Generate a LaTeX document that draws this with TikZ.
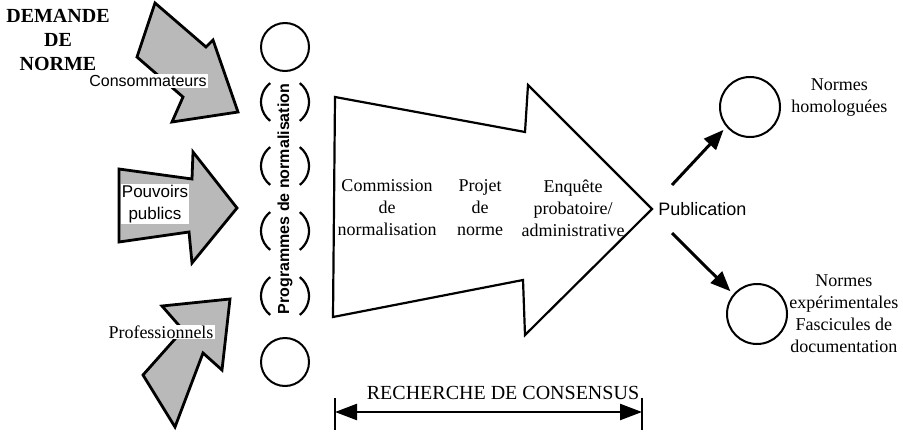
\documentclass[tikz,border=0pt]{standalone}
\usepackage{fontspec}
\setmainfont{Liberation Serif}
\newfontfamily\sansfam{Liberation Sans}
\usetikzlibrary{
    arrows.meta,
    positioning,
    calc,
}

\begin{document}
\begin{tikzpicture}[
    x=0.5pt, y=-0.5pt,
    demand/.style={draw, line width=1.4pt, fill=gray!55, line join=miter},
    bigarrow/.style={draw, line width=1.1pt, fill=white, line join=miter},
    prog/.style={draw, line width=1pt, circle, minimum size=24pt, inner sep=0pt},
    result/.style={draw, line width=1pt, circle, minimum size=30pt, inner sep=0pt},
    paren/.style={line width=1.1pt},
    lbl/.style={align=center, inner sep=1pt, font=\fontsize{9}{11}\selectfont},
    tag/.style={fill=white, align=center, inner sep=0.5pt, font=\sansfam\fontsize{8}{11}\selectfont},
    pubarrow/.style={line width=1.5pt, shorten >=2pt, -{Triangle[length=10pt,width=8pt]}},
    ]

\useasboundingbox (0,0) rectangle (903,433);

\node[align=center, inner sep=0pt, font=\bfseries\fontsize{10}{12}\selectfont] at (58,40) (demande)
    {DEMANDE\\DE\\NORME};

% demand arrows
\draw[demand] (155,3) -- (206,47) -- (213,40) -- (238,112) -- (172,122) -- (183,97) -- (137,57) -- cycle;
\draw[demand] (119,169) -- (192,179) -- (193,152) -- (237,208) -- (192,263) -- (189,232) -- (119,242) -- cycle;
\draw[demand] (230,299) -- (162,306) -- (183,330) -- (143,375) -- (175,427) -- (203,353) -- (222,370) -- cycle;

\node[tag] at (148,81) (conso) {Consommateurs};
\node[tag, font=\sansfam\fontsize{8.5}{11}\selectfont] at (155,204) (pouvoirs) {Pouvoirs\\publics};
\node[tag, font=\fontsize{9}{11}\selectfont] at (161,332) (pro) {Professionnels};

% programmes
\node[prog] at (285,47) (ptop) {};
\node[prog] at (285,362) (pbot) {};
\foreach \i/\y in {1/102, 2/166, 3/231, 4/296} {
    \coordinate (p\i) at (285,\y);
    \draw[paren] ([shift={(128:12pt)}]p\i) arc[start angle=128, end angle=232, radius=12pt];
    \draw[paren] ([shift={(-52:12pt)}]p\i) arc[start angle=-52, end angle=52, radius=12pt];
}
\node[rotate=90, inner sep=0pt, font=\sansfam\bfseries\fontsize{8}{10}\selectfont] at (285,199) (programmes)
    {Programmes de normalisation};

% big arrow
\draw[bigarrow] (335,97) -- (525,132) -- (528,85) -- (652,209) -- (525,335) -- (523,280) -- (333,317) -- cycle;
\coordinate (tip) at (652,209);

\node[lbl] at (387,208) (commission) {Commission\\de\\normalisation};
\node[lbl] at (480,208) (projet) {Projet\\de\\norme};
\node[lbl] at (573,208) (enquete) {Enqu\^ete\\probatoire/\\administrative};

\node[right=1pt of tip, inner sep=2pt, font=\sansfam\fontsize{9}{11}\selectfont] (pub) {Publication};

\node[result] at (750,107) (homol) {};
\node[result] at (757,314) (expe) {};

\node[lbl, right=4pt of homol, yshift=4.5pt] (homoltxt) {Normes\\homologu\'ees};
\node[lbl, right=-0.5pt of expe] (expetxt) {Normes\\exp\'erimentales\\Fascicules de\\documentation};

\draw[pubarrow] ([xshift=9pt, yshift=12pt]pub.west) -- (homol.220);
\draw[pubarrow] ([xshift=9pt, yshift=-12pt]pub.west) -- (expe.140);

% consensus
\coordinate (cl) at (335,412);
\coordinate (cr) at (642,412);
\draw[line width=1pt] ([yshift=7pt]cl) -- ([yshift=-9pt]cl);
\draw[line width=1pt] ([yshift=7pt]cr) -- ([yshift=-9pt]cr);
\draw[line width=1.2pt, {Triangle[length=11pt,width=8pt]}-{Triangle[length=11pt,width=8pt]}] (cl) -- (cr);
\node[font=\fontsize{10}{12}\selectfont] at (503,393) (consensus) {RECHERCHE DE CONSENSUS};

\end{tikzpicture}
\end{document}
